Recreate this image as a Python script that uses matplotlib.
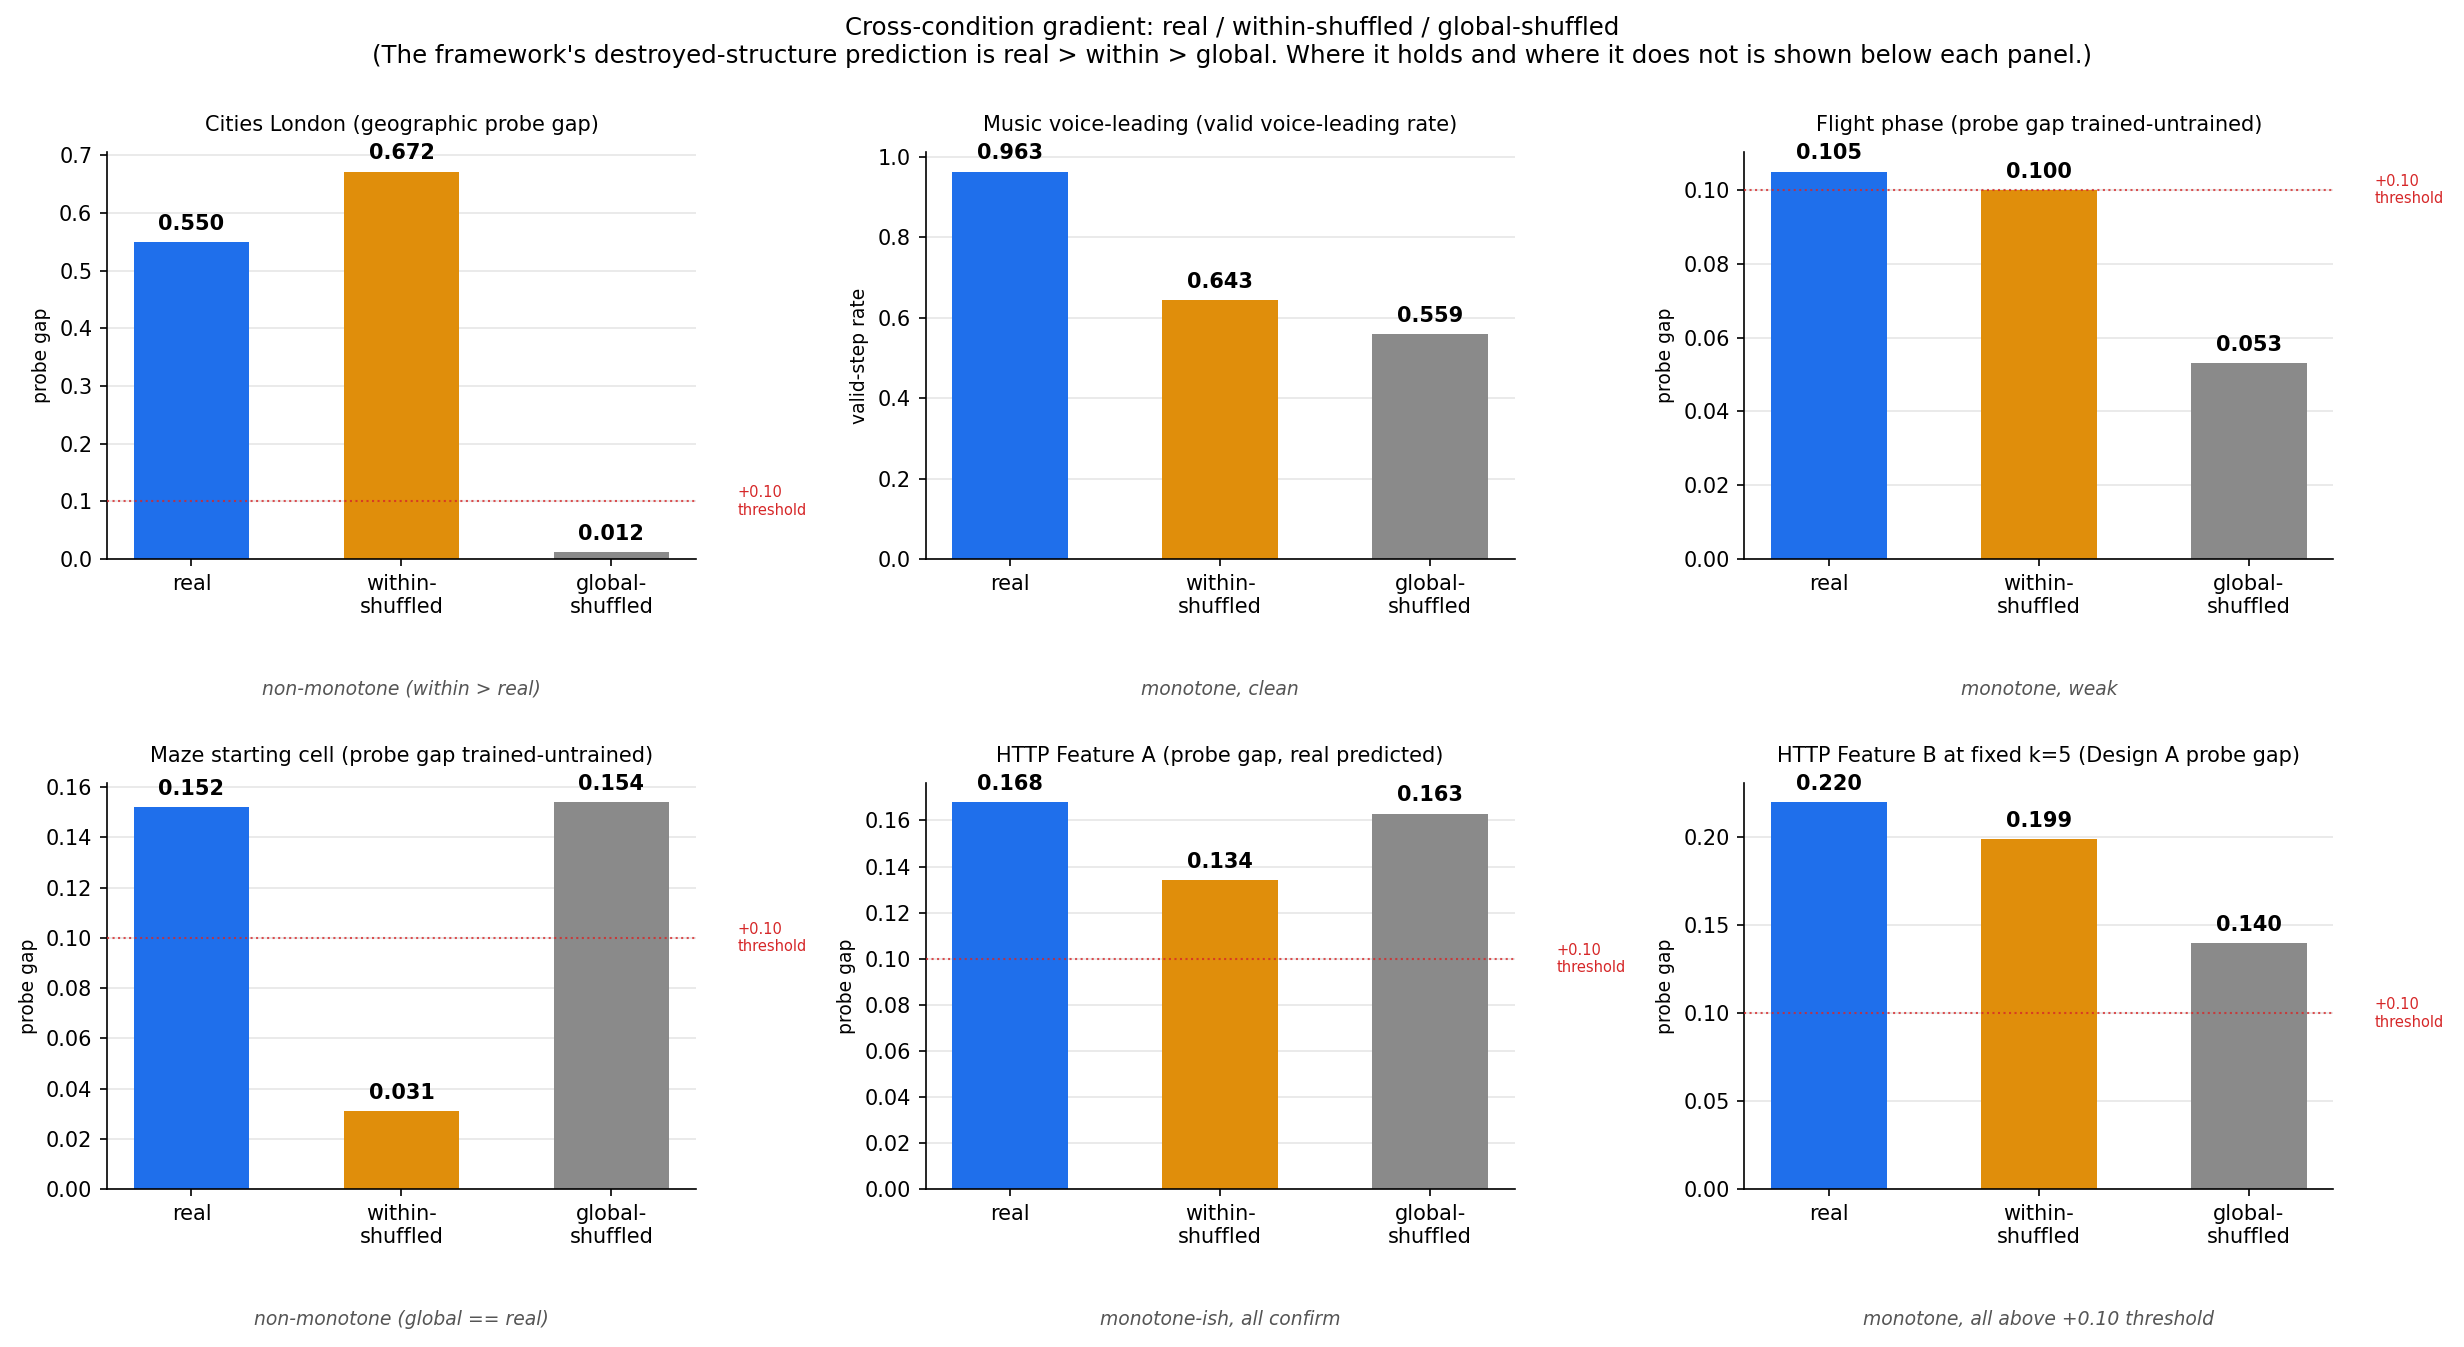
import matplotlib
matplotlib.use("Agg")
import matplotlib.pyplot as plt
import numpy as np

conditions = ["real", "within-\nshuffled", "global-\nshuffled"]
colors = ["#1f6feb", "#e08e0b", "#8a8a8a"]

titles = [
    "Cities London (geographic probe gap)",
    "Music voice-leading (valid voice-leading rate)",
    "Flight phase (probe gap trained-untrained)",
    "Maze starting cell (probe gap trained-untrained)",
    "HTTP Feature A (probe gap, real predicted)",
    "HTTP Feature B at fixed k=5 (Design A probe gap)",
]
ylabels = ["probe gap", "valid-step rate", "probe gap", "probe gap", "probe gap", "probe gap"]

cities = [0.550, 0.672, 0.012]
music = [0.963, 0.643, 0.559]
flight = [0.105, 0.100, 0.053]
maze = [0.152, 0.031, 0.154]
http_a = [0.168, 0.134, 0.163]
http_b = [0.220, 0.199, 0.140]
panel_values = [cities, music, flight, maze, http_a, http_b]

show_threshold = [True, False, True, True, True, True]
threshold = 0.10

notes = [
    "non-monotone (within > real)",
    "monotone, clean",
    "monotone, weak",
    "non-monotone (global == real)",
    "monotone-ish, all confirm",
    "monotone, all above +0.10 threshold",
]

fig, axes = plt.subplots(2, 3, figsize=(2464 / 150, 1347 / 150), dpi=150)
fig.subplots_adjust(left=0.0434, right=0.947, top=0.887, bottom=0.117, wspace=0.39, hspace=0.55)

for ax, title, ylab, vals, thr, note in zip(axes.flat, titles, ylabels, panel_values, show_threshold, notes):
    x = np.arange(len(vals))
    ax.bar(x, vals, width=0.55, color=colors, zorder=2)
    ymax = max(max(vals), threshold if thr else 0) * 1.05
    ax.set_ylim(0, ymax)
    for xi, v in zip(x, vals):
        ax.text(xi, v + ymax * 0.02, f"{v:.3f}", ha="center", va="bottom",
                fontsize=10, fontweight="bold")
    if thr:
        ax.axhline(threshold, color="#d62728", linestyle=":", linewidth=1, alpha=0.8, zorder=3)
        ax.text(2.6, threshold, "+0.10\nthreshold", color="#d62728", fontsize=7,
                ha="left", va="center")
    ax.set_xticks(x)
    ax.set_xticklabels(conditions, fontsize=10)
    ax.tick_params(axis="y", labelsize=10)
    ax.set_ylabel(ylab, fontsize=9)
    ax.set_title(title, fontsize=10, pad=10)
    ax.grid(axis="y", color="#e6e6e6", linewidth=0.8, zorder=0)
    ax.set_axisbelow(True)
    ax.spines["top"].set_visible(False)
    ax.spines["right"].set_visible(False)
    ax.text(0.5, -0.32, note, transform=ax.transAxes, ha="center", va="center",
            fontsize=9, style="italic", color="#555555")

fig.suptitle("Cross-condition gradient: real / within-shuffled / global-shuffled\n"
             "(The framework's destroyed-structure prediction is real > within > global. "
             "Where it holds and where it does not is shown below each panel.)",
             fontsize=11.7, y=0.988)

fig.savefig("out.png", dpi=150)
